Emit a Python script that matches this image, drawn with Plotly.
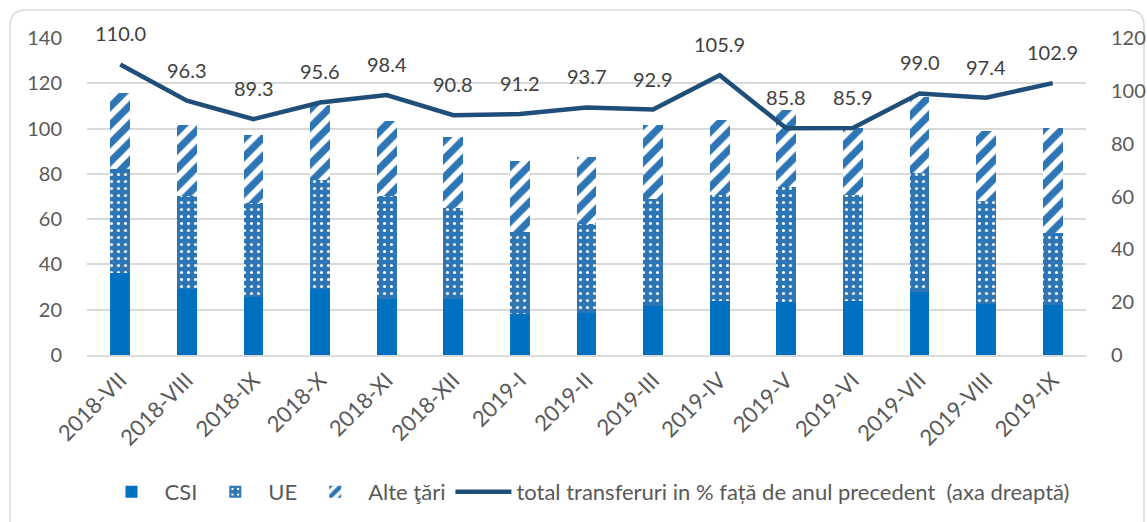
import plotly.graph_objects as go

# Monthly periods
categories = ["2018-VII", "2018-VIII", "2018-IX", "2018-X", "2018-XI", "2018-XII",
              "2019-I", "2019-II", "2019-III", "2019-IV", "2019-V", "2019-VI",
              "2019-VII", "2019-VIII", "2019-IX"]

# Stacked components (left axis)
csi = [36.1, 29.3, 25.5, 29.3, 24.9, 24.6, 18.0, 18.7, 21.8, 23.7, 23.3, 23.8, 27.7, 22.4, 21.9]
ue_top = [82.1, 70.2, 67.3, 77.3, 70.3, 65.0, 54.4, 57.8, 69.0, 70.6, 74.3, 70.6, 80.5, 68.1, 53.7]
total_top = [115.7, 101.5, 97.1, 110.4, 103.3, 96.1, 85.6, 87.6, 101.5, 104.0, 108.2, 100.1, 114.0, 99.0, 100.2]
ue = [round(u - c, 1) for u, c in zip(ue_top, csi)]
alte = [round(t - u, 1) for t, u in zip(total_top, ue_top)]

# Total transfers as % of previous year (right axis)
total_pct = [110.0, 96.3, 89.3, 95.6, 98.4, 90.8, 91.2, 93.7, 92.9, 105.9, 85.8, 85.9, 99.0, 97.4, 102.9]

left_ticks = [0, 20, 40, 60, 80, 100, 120, 140]
right_ticks = [0, 20, 40, 60, 80, 100, 120]

FONT = "Lato"
TXT = "#595959"
W, H = 1147, 522
ML, MR, MT, MB = 87, 61, 38, 167

fig = go.Figure()
fig.add_bar(x=categories, y=csi, name="CSI", marker=dict(color="#0070C0", line_width=0),
            width=0.3)
fig.add_bar(x=categories, y=ue, name="UE", width=0.3,
            marker=dict(color="#2E75B6", line_width=0,
                        pattern=dict(shape=".", fgcolor="white", bgcolor="#2E75B6",
                                     size=7, solidity=0.15, fgopacity=1)))
fig.add_bar(x=categories, y=alte, name="Alte ţări", width=0.3,
            marker=dict(color="white", line_width=0,
                        pattern=dict(shape="/", fgcolor="#2E75B6", bgcolor="white",
                                     size=13, solidity=0.55, fgopacity=1)))
fig.add_scatter(x=categories, y=total_pct, yaxis="y2", mode="lines",
                name="total transferuri in % față de anul precedent  (axa dreaptă)",
                line=dict(color="#1F4E79", width=4.5))

for c, v in zip(categories, total_pct):
    fig.add_annotation(x=c, y=v, yref="y2", text=f"{v:.1f}", showarrow=False,
                       yshift=31, font=dict(family=FONT, size=20, color="#404040"))

# Rounded frame around the chart, defined in pixels and converted to paper units
pw, ph = W - ML - MR, H - MT - MB
def px(x):
    return (x - ML) / pw
def py(y):
    return (H - MB - y) / ph
x0, x1, y0, y1, r = 10, 1144, 10, 540, 16
path = (f"M {px(x0)},{py(y1)} L {px(x0)},{py(y0 + r)} "
        f"Q {px(x0)},{py(y0)} {px(x0 + r)},{py(y0)} "
        f"L {px(x1 - r)},{py(y0)} Q {px(x1)},{py(y0)} {px(x1)},{py(y0 + r)} "
        f"L {px(x1)},{py(y1)}")
fig.add_shape(type="path", path=path, xref="paper", yref="paper",
              line=dict(color="#D9D9D9", width=1.5), layer="below")

fig.update_layout(
    width=W, height=H, autosize=False,
    margin=dict(l=ML, r=MR, t=MT, b=MB, autoexpand=False),
    barmode="stack", bargap=0.7,
    plot_bgcolor="white", paper_bgcolor="white",
    font=dict(family=FONT, color=TXT, size=20),
    xaxis=dict(tickangle=-45, tickfont=dict(size=22, color=TXT), showgrid=False,
               showline=True, linecolor="#D9D9D9", linewidth=1.5, ticks="",
               ticklabelstandoff=2, automargin=False),
    yaxis=dict(range=[0, 140], tickvals=left_ticks, showgrid=True, gridcolor="#D9D9D9",
               gridwidth=1.5, zeroline=False, ticks="", tickfont=dict(size=20, color=TXT),
               ticklabelstandoff=24, automargin=False),
    yaxis2=dict(range=[0, 120], tickvals=right_ticks, overlaying="y", side="right",
                showgrid=False, zeroline=False, ticks="", tickfont=dict(size=20, color=TXT),
                ticklabelstandoff=24, automargin=False),
    legend=dict(orientation="h", x=0.5, xanchor="center", y=py(492), yanchor="middle",
                font=dict(size=22, color=TXT), itemwidth=56, traceorder="normal",
                bgcolor="rgba(0,0,0,0)"),
    showlegend=True,
)

fig.write_html("out.html")
